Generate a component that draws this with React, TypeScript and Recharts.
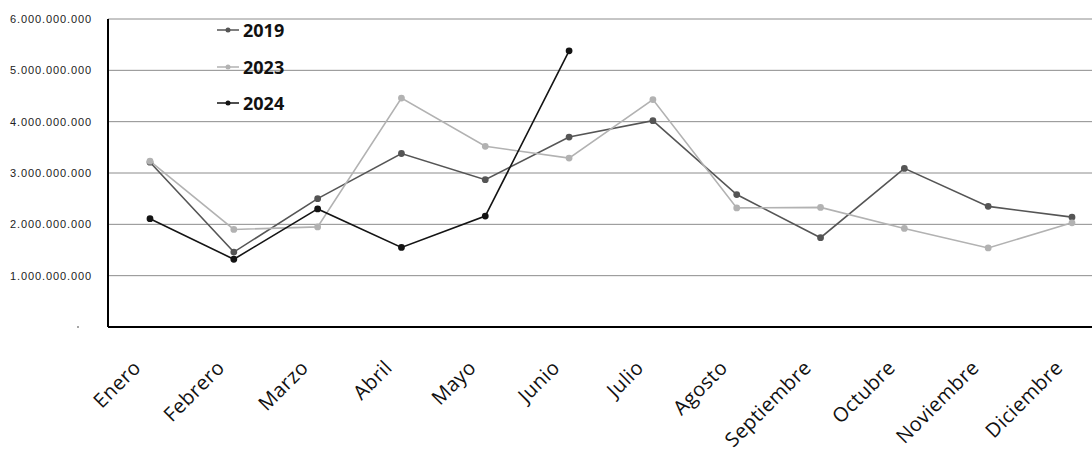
import React from 'react';
import { CartesianGrid, Line, LineChart, XAxis, YAxis } from 'recharts';

const months = [
  'Enero', 'Febrero', 'Marzo', 'Abril', 'Mayo', 'Junio',
  'Julio', 'Agosto', 'Septiembre', 'Octubre', 'Noviembre', 'Diciembre',
];
// values in millions
const sales2019 = [3210, 1460, 2500, 3380, 2870, 3700, 4020, 2580, 1740, 3090, 2350, 2140];
const sales2023 = [3230, 1900, 1950, 4460, 3520, 3290, 4430, 2320, 2330, 1920, 1540, 2030];
const sales2024 = [2110, 1320, 2300, 1550, 2160, 5380, null, null, null, null, null, null];
const yTicks = [0, 1000, 2000, 3000, 4000, 5000, 6000];

const data = months.map((m, i) => ({
  month: m,
  y2019: sales2019[i],
  y2023: sales2023[i],
  y2024: sales2024[i],
}));

const series = [
  { key: 'y2019', name: '2019', color: '#555555' },
  { key: 'y2023', name: '2023', color: '#b2b2b2' },
  { key: 'y2024', name: '2024', color: '#141414' },
];

const fmt = (v: number) => v.toFixed(0).replace(/\B(?=(\d{3})+(?!\d))/g, '.');

function YTick({ x, y, payload }: any) {
  if (payload.value === 0) {
    return <circle cx={x - 22} cy={y} r={1} fill="#888" />;
  }
  return (
    <text x={x - 8} y={y} dy={4} textAnchor="end" fontSize={11} letterSpacing={0.9}
      fill="#222" fontFamily="Liberation Sans, Arial, sans-serif">
      {fmt(payload.value * 1e6)}
    </text>
  );
}

function XTick({ x, y, payload }: any) {
  const ax = x - 8;
  const ay = y + 34;
  return (
    <text x={ax} y={ay} textAnchor="end" transform={`rotate(-45 ${ax} ${ay})`}
      fontSize={20} letterSpacing={0.4} fill="#111" fontFamily="Open Sans, sans-serif">
      {payload.value}
    </text>
  );
}

function LegendBox() {
  return (
    <div style={{ position: 'absolute', left: 217, top: 12, fontFamily: 'Open Sans, sans-serif',
      fontWeight: 700, fontSize: 18, color: '#111', lineHeight: 1 }}>
      {series.map((s) => (
        <div key={s.key} style={{ display: 'flex', alignItems: 'center', height: 36.5 }}>
          <svg width={24} height={10} style={{ marginRight: 2 }}>
            <line x1={0} y1={5} x2={22} y2={5} stroke={s.color} strokeWidth={1.5} />
            <circle cx={11} cy={5} r={2.5} fill={s.color} />
          </svg>
          <span>{s.name}</span>
        </div>
      ))}
    </div>
  );
}

export default function App() {
  return (
    <div style={{ position: 'fixed', left: 0, top: 0, width: 1092, height: 456, overflow: 'hidden', background: '#fff' }}>
      <LineChart width={1114} height={456} data={data} margin={{ top: 19, right: 0, bottom: 0, left: 0 }}>
        <CartesianGrid horizontal vertical={false} stroke="#8c8c8c" strokeWidth={1} />
        <XAxis dataKey="month" height={129} stroke="#000" strokeWidth={2} tickLine={false}
          tick={<XTick />} interval={0} padding={{ left: 42, right: 42 }} />
        <YAxis width={108} domain={[0, 6000]} ticks={yTicks} stroke="#000" strokeWidth={2}
          tickLine={false} tick={<YTick />} />
        {series.map((s) => (
          <Line key={s.key} dataKey={s.key} name={s.name} type="linear" stroke={s.color}
            strokeWidth={1.6} dot={{ r: 2.6, fill: s.color, stroke: s.color }}
            isAnimationActive={false} connectNulls={false} />
        ))}
      </LineChart>
      <LegendBox />
    </div>
  );
}
